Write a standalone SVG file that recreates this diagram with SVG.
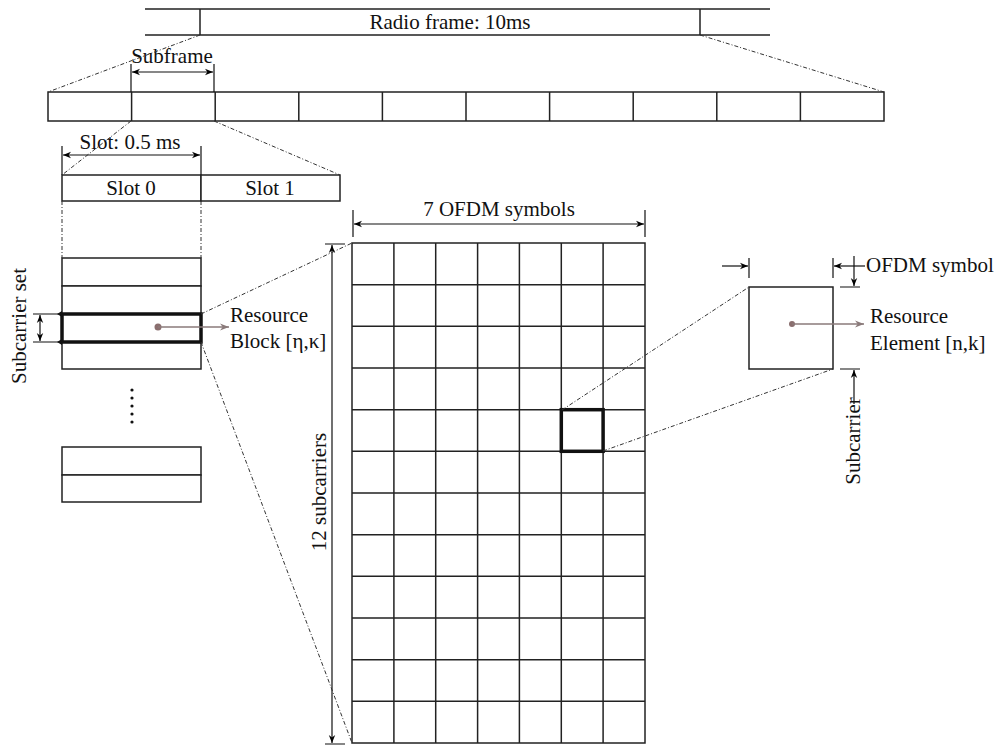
<svg xmlns="http://www.w3.org/2000/svg" width="1003" height="747" viewBox="0 0 1003 747">
<defs>
<marker id="ah" viewBox="0 0 10 10" refX="10" refY="5" markerWidth="10" markerHeight="8" markerUnits="userSpaceOnUse" orient="auto-start-reverse"><path d="M0,1 L10,5 L0,9 L3,5 Z" fill="#000"/></marker>
<marker id="gh" viewBox="0 0 10 10" refX="10" refY="5" markerWidth="12" markerHeight="9" markerUnits="userSpaceOnUse" orient="auto"><path d="M0,1 L10,5 L0,9 L3,5 Z" fill="#8a7a7a"/></marker>
</defs>
<style>
.t{font-family:"Liberation Serif","Times New Roman",serif;font-size:21px;fill:#111}
.ln{stroke:#222;stroke-width:1.5;fill:none}
.bx{stroke:#222;stroke-width:1.5;fill:#fff}
.bold{stroke:#111;stroke-width:3.5;fill:none}
.dd{stroke:#333;stroke-width:1;stroke-dasharray:4 2 1 2;fill:none}
.dim{stroke:#111;stroke-width:1.2;fill:none}
.ptr{stroke:#8a7a7a;stroke-width:1.3;fill:none}
</style>

<g id="radio-frame">
<path class="ln" d="M145,9 H770 M145,35 H770 M200,9 V35 M700,9 V35"/>
<text class="t" x="450" y="29" text-anchor="middle">Radio frame: 10ms</text>
</g>

<g id="subframes">
<rect class="bx" x="48" y="92" width="836" height="29"/>
<path class="ln" d="M131.6,92V121 M215.2,92V121 M298.8,92V121 M382.4,92V121 M466,92V121 M549.6,92V121 M633.2,92V121 M716.8,92V121 M800.4,92V121"/>
</g>

<g id="subframe-label">
<path class="dim" d="M131,64 V92 M214,64 V92"/>
<path class="dim" d="M132,72 H213" marker-start="url(#ah)" marker-end="url(#ah)"/>
<text class="t" x="172" y="63" text-anchor="middle">Subframe</text>
</g>

<g id="slot-label">
<path class="dim" d="M62,146 V175 M201,146 V175"/>
<path class="dim" d="M63,155 H200" marker-start="url(#ah)" marker-end="url(#ah)"/>
<text class="t" x="130" y="149" text-anchor="middle">Slot: 0.5 ms</text>
</g>

<g id="slots">
<rect class="bx" x="62" y="175" width="139" height="26"/>
<rect class="bx" x="201" y="175" width="139" height="26"/>
<text class="t" x="131" y="195" text-anchor="middle">Slot 0</text>
<text class="t" x="270" y="195" text-anchor="middle">Slot 1</text>
</g>

<g id="resource-blocks">
<rect class="bx" x="62" y="258" width="139" height="28"/>
<rect class="bx" x="62" y="286" width="139" height="28"/>
<rect class="bx" x="62" y="342" width="139" height="27"/>
<rect class="bold" x="62" y="314" width="139" height="28"/>
<g fill="#111">
<circle cx="132" cy="390" r="1.6"/><circle cx="132" cy="398" r="1.6"/><circle cx="132" cy="406" r="1.6"/><circle cx="132" cy="414" r="1.6"/><circle cx="132" cy="422" r="1.6"/>
</g>
<rect class="bx" x="62" y="447" width="139" height="28"/>
<rect class="bx" x="62" y="475" width="139" height="27"/>
<circle cx="158" cy="327" r="3.5" fill="#8a6e6e"/>
<path class="ptr" d="M158,327 H229" marker-end="url(#gh)"/>
<text class="t" x="230" y="322">Resource</text>
<text class="t" x="230" y="348">Block [η,κ]</text>
</g>

<g id="subcarrier-set">
<path class="dim" d="M33,314 H62 M33,342 H62"/>
<path d="M62,311 L57,314 L62,317 Z M62,339 L57,342 L62,345 Z" fill="#111"/>
<path class="dim" d="M40,315 V341" marker-start="url(#ah)" marker-end="url(#ah)"/>
<text class="t" transform="translate(26,326) rotate(-90)" text-anchor="middle">Subcarrier set</text>
</g>

<g id="rb-grid">
<rect class="bx" x="352" y="243" width="293" height="500"/>
<path class="ln" d="M393.9,243V743 M435.7,243V743 M477.6,243V743 M519.4,243V743 M561.3,243V743 M603.1,243V743
M352,284.7H645 M352,326.3H645 M352,368H645 M352,409.7H645 M352,451.3H645 M352,493H645 M352,534.7H645 M352,576.3H645 M352,618H645 M352,659.7H645 M352,701.3H645"/>
<rect class="bold" x="561.3" y="409.7" width="41.8" height="41.6"/>
</g>

<g id="ofdm-label">
<path class="dim" d="M353,210 V237 M645,210 V237"/>
<path class="dim" d="M354,224 H644" marker-start="url(#ah)" marker-end="url(#ah)"/>
<text class="t" x="499" y="216" text-anchor="middle">7 OFDM symbols</text>
</g>

<g id="subcarriers-label">
<path class="dim" d="M325,244 H345 M325,744 H345"/>
<path class="dim" d="M332,245 V743" marker-start="url(#ah)" marker-end="url(#ah)"/>
<text class="t" transform="translate(326,492) rotate(-90)" text-anchor="middle">12 subcarriers</text>
</g>

<g id="resource-element">
<rect class="bx" x="749" y="287" width="84" height="82"/>
<circle cx="792" cy="324" r="3" fill="#8a6e6e"/>
<path class="ptr" d="M792,324 H864" marker-end="url(#gh)"/>
<text class="t" x="870" y="323">Resource</text>
<text class="t" x="870" y="350">Element [n,k]</text>
<path class="dim" d="M749,258 V278 M833,258 V278"/>
<path class="dim" d="M722,266 H748" marker-end="url(#ah)"/>
<path class="dim" d="M865,266 H834" marker-end="url(#ah)"/>
<text class="t" x="866" y="272">OFDM symbol</text>
<path class="dim" d="M840,287 H860 M840,369 H860"/>
<path class="dim" d="M854,256 V286" marker-end="url(#ah)"/>
<path class="dim" d="M854,404 V370" marker-end="url(#ah)"/>
<text class="t" transform="translate(860,441) rotate(-90)" text-anchor="middle">Subcarrier</text>
</g>

<g id="connectors">
<path class="dd" d="M200,35 L48,92"/>
<path class="dd" d="M700,35 L884,92"/>
<path class="dd" d="M131,121 L62,175"/>
<path class="dd" d="M214,121 L340,175"/>
<path class="dd" d="M62,201 L62,258"/>
<path class="dd" d="M201,201 L201,258"/>
<path class="dd" d="M201,314 L352,243"/>
<path class="dd" d="M201,342 L352,743"/>
<path class="dd" d="M562,410 L749,287"/>
<path class="dd" d="M603,451 L833,369"/>
</g>
</svg>
